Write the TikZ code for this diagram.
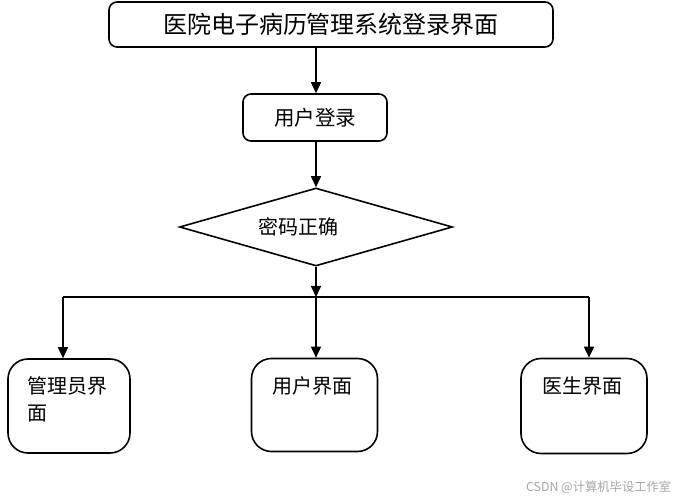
\documentclass[tikz,border=0pt]{standalone}
\usepackage{fontspec}
\newfontfamily\cjk{Noto Sans CJK SC}
\usetikzlibrary{arrows.meta,shapes.geometric}
\begin{document}
\begin{tikzpicture}[x=1pt,y=-1pt,line width=1.6pt,
  box/.style={draw,rounded corners=#1,inner sep=0pt},
  arr/.style={-{Triangle[length=11pt,width=10pt]}},
  lbl/.style={font=\cjk\fontsize{20}{27}\selectfont,inner sep=0pt,align=left},
  wm/.style={font=\cjk\fontsize{12.3}{14}\selectfont,text=black!35,inner sep=0pt}]
\useasboundingbox[fill=white] (0,0) rectangle (681,500);
% top
\node[box=8pt,minimum width=444pt,minimum height=45pt,font=\cjk\fontsize{24}{30}\selectfont] (title) at (331,24.5) {医院电子病历管理系统登录界面};
\node[box=8pt,minimum width=144pt,minimum height=47pt,font=\cjk\fontsize{20.5}{25}\selectfont] (login) at (315,117.5) {用户登录};
\node[draw,diamond,minimum width=273pt,minimum height=78pt,inner sep=0pt] (check) at (316,227) {};
\node[lbl] (checkt) at (298,227) {密码正确};
% bottom boxes
\node[box=20pt,minimum width=122pt,minimum height=94pt] (admin) at (69,406) {};
\node[box=20pt,minimum width=126pt,minimum height=93pt] (user) at (314.5,405) {};
\node[box=20pt,minimum width=126pt,minimum height=95pt] (doctor) at (584,406) {};
\node[lbl,anchor=north west] (admint) at (27,376) {管理员界\\面};
\node[lbl] (usert) at (312,386) {用户界面};
\node[lbl] (doctort) at (582.5,386) {医生界面};
% connectors
\coordinate (j) at (316,297);
\coordinate (jl) at (63,297);
\coordinate (jr) at (589,297);
\draw[arr] (title.south -| check.north) -- (check.north |- login.north);
\draw[arr] (login.south -| check.north) -- (check.north);
\draw[arr] (check.south) -- (j);
\draw (jl) -- (jr);
\draw[arr] (jl) -- (jl |- admin.north);
\draw[arr] (j) -- (j |- user.north);
\draw[arr] (jr) -- (jr |- doctor.north);
% watermark
\node[wm,anchor=east] (mark) at (672,487) {CSDN @计算机毕设工作室};
\end{tikzpicture}
\end{document}
